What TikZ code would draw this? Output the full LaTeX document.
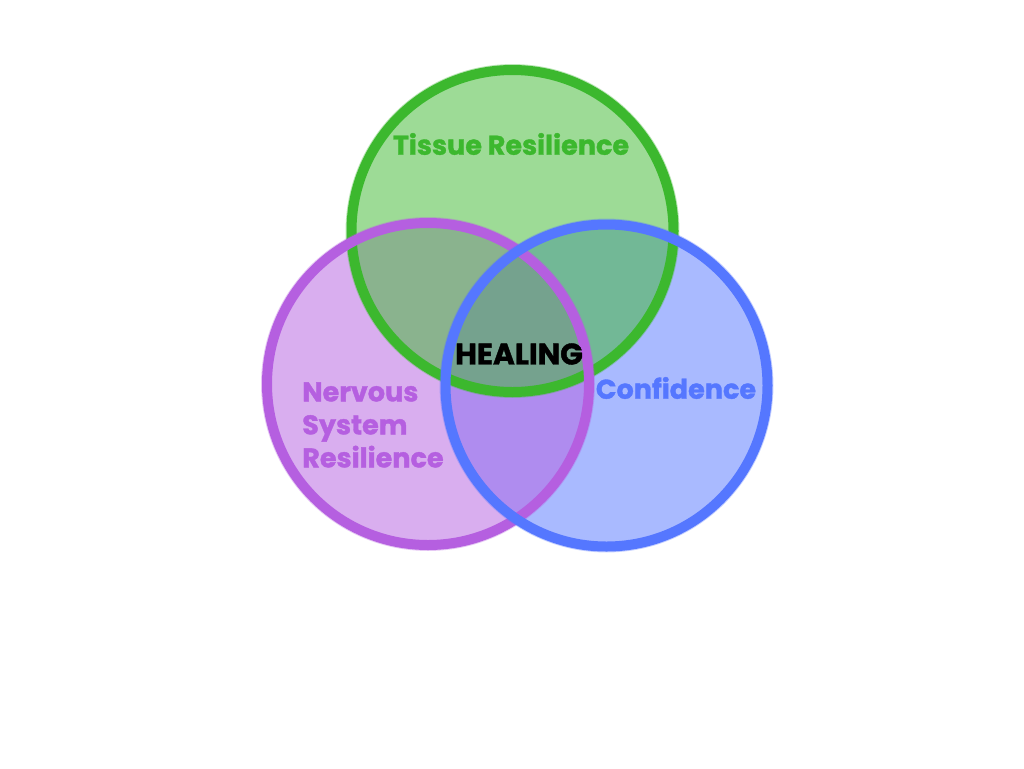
\documentclass[tikz,border=0pt]{standalone}
\usepackage{fontspec}
\setmainfont{Poppins}[BoldFeatures={FakeBold=1.3}]
\definecolor{cgreen}{RGB}{60,184,46}
\definecolor{cpurple}{RGB}{181,95,224}
\definecolor{cblue}{RGB}{85,119,255}
\begin{document}
\begin{tikzpicture}[x=0.75pt,y=-0.75pt,
  disc/.style={fill=#1, fill opacity=0.5},
  ring/.style={draw=#1, line width=7.5pt},
  halo/.style={draw=#1, draw opacity=0.35, line width=1.2pt},
  lbl/.style={font=\bfseries\fontsize{20.3}{24.75}\selectfont, text=#1, inner sep=0pt}]
\useasboundingbox (0,0) rectangle (1024,768);
\fill[white] (0,0) rectangle (1024,768);
\coordinate (G) at (512.5,231);
\coordinate (P) at (428,384);
\coordinate (B) at (606.5,385.5);
% fills
\fill[disc=cblue] (B) circle[radius=120.75pt];
\fill[disc=cpurple] (P) circle[radius=120.75pt];
\fill[disc=cgreen] (G) circle[radius=120.75pt];
% rings
\draw[halo=cgreen] (G) circle[radius=124.6pt];
\draw[ring=cgreen] (G) circle[radius=120.75pt];
\draw[halo=cpurple] (P) circle[radius=124.6pt];
\draw[ring=cpurple] (P) circle[radius=120.75pt];
\draw[halo=cblue] (B) circle[radius=124.6pt];
\draw[ring=cblue] (B) circle[radius=120.75pt];
% labels
\node[lbl=cgreen] (tissue) at (511,144) {Tissue Resilience};
\node[lbl=black, font=\bfseries\fontsize{22.3}{26}\selectfont] (healing) at (519,354) {HEALING};
\node[lbl=cpurple, anchor=west, align=left] (nervous) at (302,425) {Nervous\\System\\Resilience};
\node[lbl=cblue] (confidence) at (676,388) {Confidence};
\end{tikzpicture}
\end{document}
